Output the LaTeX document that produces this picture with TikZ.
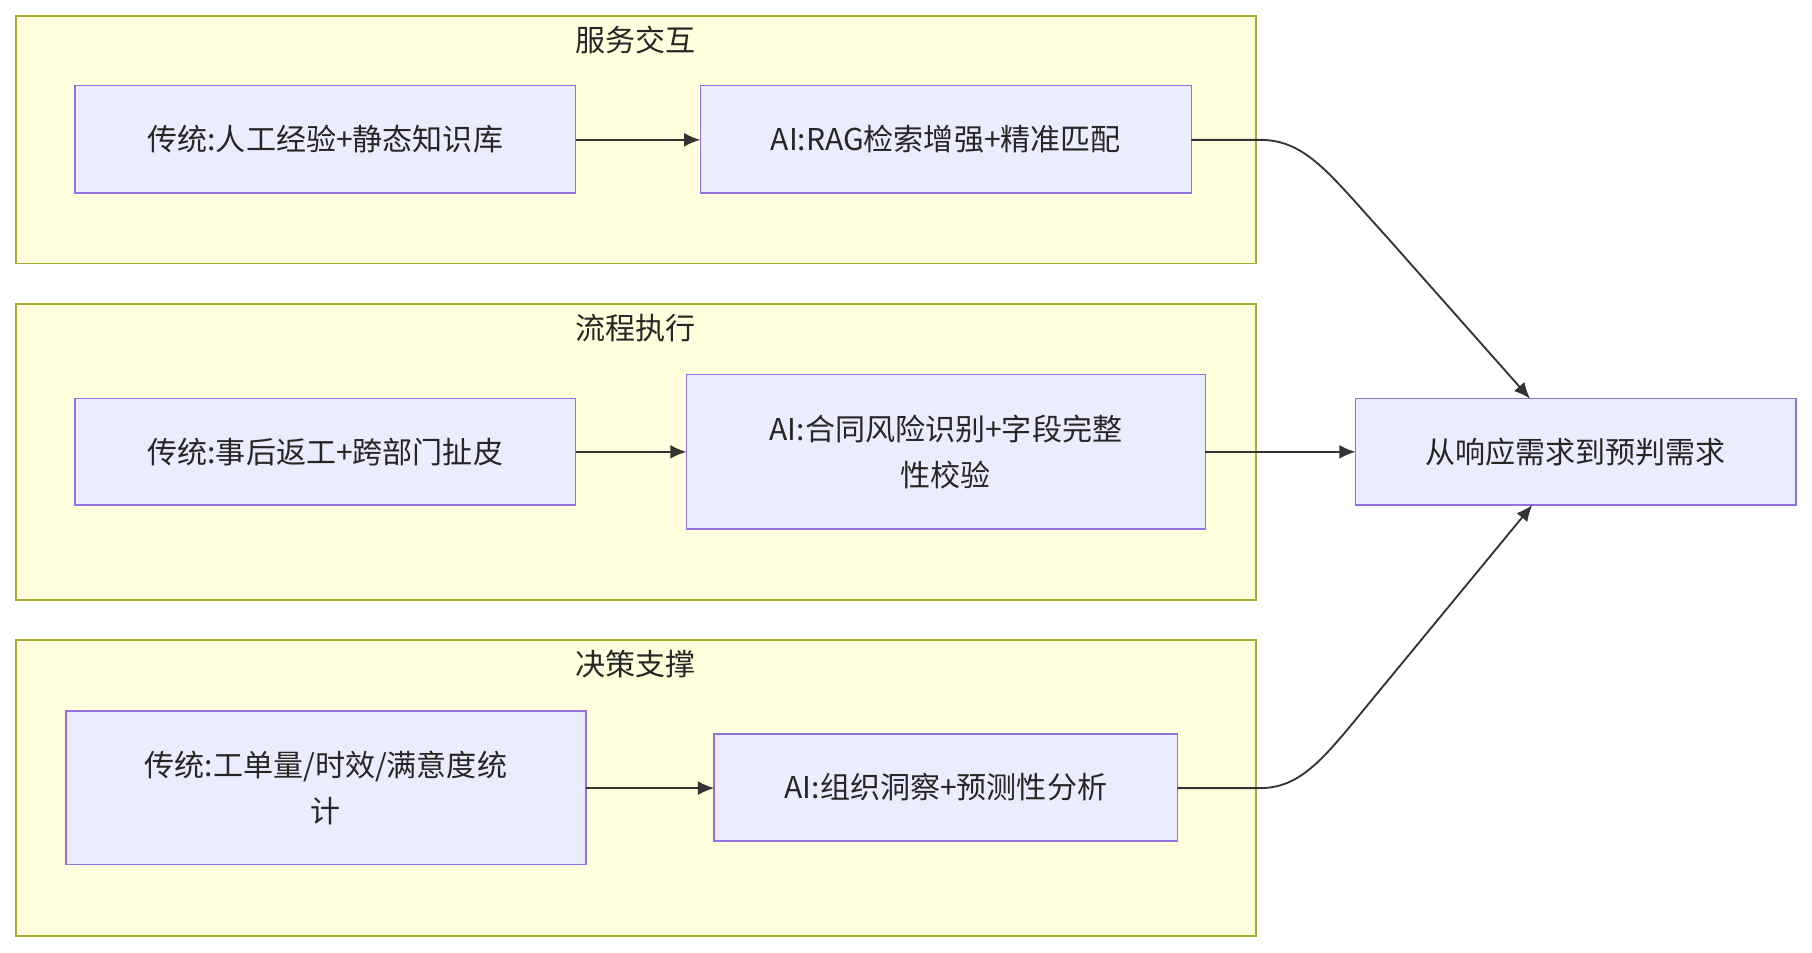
\documentclass[tikz,border=0pt]{standalone}
\usepackage{fontspec}
\setmainfont{Noto Sans CJK SC}
\usetikzlibrary{arrows.meta}
\definecolor{cf}{HTML}{FFFFDE}\definecolor{cb}{HTML}{AAAA33}
\definecolor{nf}{HTML}{ECECFF}\definecolor{nb}{HTML}{9370DB}
\definecolor{ln}{HTML}{333333}
\begin{document}
\begin{tikzpicture}[x=0.5pt,y=-0.5pt,
  clu/.style={fill=cf,draw=cb,line width=0.7pt},
  nd/.style={fill=nf,draw=nb,line width=0.7pt},
  tx/.style={font=\fontsize{13}{20}\selectfont,text=black!85,align=center},
  ar/.style={draw=ln,line width=0.8pt,-{Latex[length=7pt,width=6pt]}}]
\useasboundingbox (0,0) rectangle (1568,824);
\draw[clu] (14,14) rectangle (1087,228);
\draw[clu] (14,263) rectangle (1087,519);
\draw[clu] (14,554) rectangle (1087,810);
\node[tx] (t1) at (550,35) {服务交互};
\node[tx] (t2) at (550,284) {流程执行};
\node[tx] (t3) at (550,575) {决策支撑};
\draw[nd] (65,74) rectangle (498,167); \node[tx] (a1) at (281.5,120.5) {传统:人工经验+静态知识库};
\draw[nd] (606,74) rectangle (1031,167); \node[tx] (a2) at (818.5,120.5) {AI:RAG检索增强+精准匹配};
\draw[nd] (65,345) rectangle (498,437); \node[tx] (b1) at (281.5,391) {传统:事后返工+跨部门扯皮};
\draw[nd] (594,324) rectangle (1043,458); \node[tx] (b2) at (818.5,391) {AI:合同风险识别+字段完整\\性校验};
\draw[nd] (57,615) rectangle (507,748); \node[tx] (c1) at (282,682) {传统:工单量/时效/满意度统\\计};
\draw[nd] (618,635) rectangle (1019,728); \node[tx] (c2) at (818.5,681.5) {AI:组织洞察+预测性分析};
\draw[nd] (1173,345) rectangle (1554,437); \node[tx] (r) at (1363.5,391) {从响应需求到预判需求};
\coordinate (a1e) at (498,121); \coordinate (a2w) at (606,121); \coordinate (a2e) at (1031,121);
\coordinate (b1e) at (498,391); \coordinate (b2w) at (594,391); \coordinate (b2e) at (1043,391);
\coordinate (c1e) at (507,682); \coordinate (c2w) at (618,682); \coordinate (c2e) at (1019,682);
\coordinate (rt) at (1324,345); \coordinate (rb) at (1326,437); \coordinate (rw) at (1173,391);
\draw[ar] (a1e) -- (a2w);
\draw[ar] (b1e) -- (b2w);
\draw[ar] (c1e) -- (c2w);
\draw[ar] (b2e) -- (rw);
\draw[ar] (a2e) -- (1090,121) .. controls (1130,121) and (1150,150) .. (1200,205) -- (rt);
\draw[ar] (c2e) -- (1090,682) .. controls (1130,682) and (1150,650) .. (1200,590) -- (rb);
\end{tikzpicture}
\end{document}
